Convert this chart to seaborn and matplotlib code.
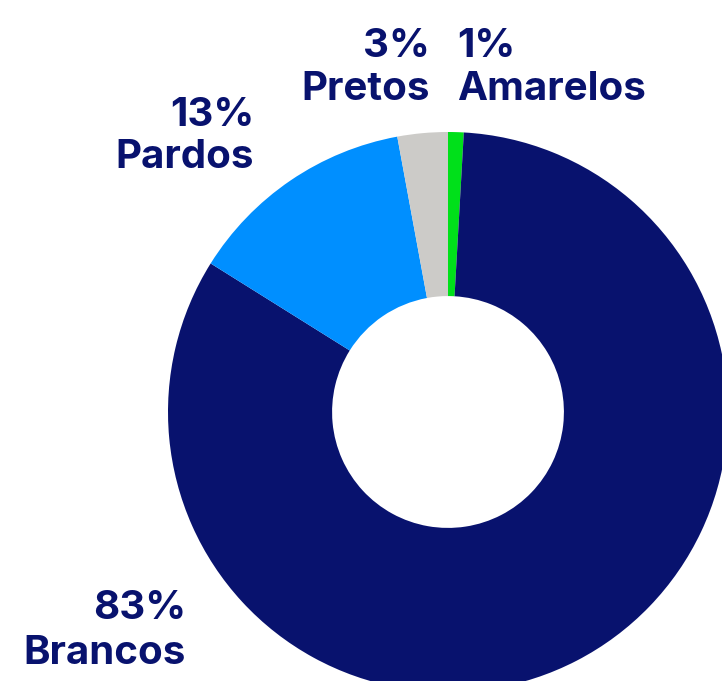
import matplotlib
matplotlib.use("Agg")
import matplotlib.pyplot as plt
import seaborn as sns

categories = ["Amarelos", "Brancos", "Pardos", "Pretos"]
values = [0.9, 83.0, 13.2, 2.9]
pct_labels = ["1%", "83%", "13%", "3%"]
colors = ["#00E01A", "#08126E", "#008FFF", "#CCCBC8"]

sns.set_theme(style="white")
plt.rcParams['font.family'] = ['Inter', 'DejaVu Sans']

W, H, DPI = 722, 681, 100
fig = plt.figure(figsize=(W / DPI, H / DPI), dpi=DPI)
fig.patch.set_facecolor("white")
ax = fig.add_axes([0, 0, 1, 1])

cx, cy, R = 448, 412, 280
palette = sns.color_palette(colors)
ax.pie(values, colors=palette, startangle=90, counterclock=False,
       radius=1.0, wedgeprops=dict(width=0.586, linewidth=0))
ax.set_xlim(-cx / R, (W - cx) / R)
ax.set_ylim(-(H - cy) / R, cy / R)
ax.set_aspect("auto")
ax.axis("off")

txt_color = "#08126E"
fs = 29
label_pos = {
    "Amarelos": ((457, 57), (457, 100), "left"),
    "Brancos": ((186, 619), (186, 664), "right"),
    "Pardos": ((254, 126), (254, 168), "right"),
    "Pretos": ((430, 57), (430, 100), "right"),
}
for cat, pct in zip(categories, pct_labels):
    (px, py), (nx, ny), ha = label_pos[cat]
    fig.text(px / W, 1 - py / H, pct, ha=ha, va="baseline", fontsize=fs,
             fontweight="bold", color=txt_color)
    fig.text(nx / W, 1 - ny / H, cat, ha=ha, va="baseline", fontsize=fs,
             fontweight="bold", color=txt_color)

fig.savefig("out.png", dpi=DPI, facecolor="white")
